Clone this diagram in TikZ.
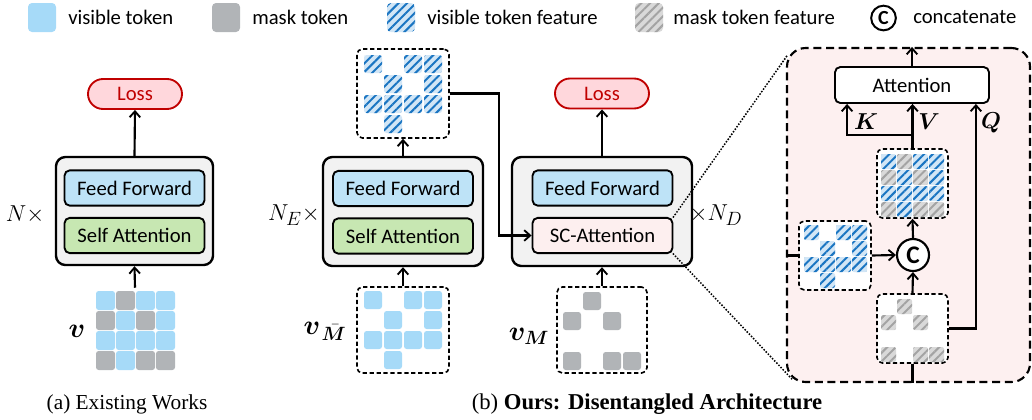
\documentclass[tikz,border=0pt]{standalone}
\usepackage{fontspec}
\setmainfont{Carlito}
\newfontfamily\capfont{Liberation Serif}
\usepackage{bm}
\usetikzlibrary{arrows.meta,patterns.meta,calc,shapes.misc}

\definecolor{vistok}{HTML}{A6DAF8}
\definecolor{msktok}{HTML}{B1B4B7}
\definecolor{featblue}{HTML}{1A75C2}
\definecolor{featlight}{HTML}{D2E6F6}
\definecolor{mskstripe}{HTML}{A3A3A3}
\definecolor{msklight}{HTML}{D9D9D9}
\definecolor{blkgray}{HTML}{F2F2F2}
\definecolor{ffblue}{HTML}{BEE3F7}
\definecolor{sagreen}{HTML}{C7E7B2}
\definecolor{lossred}{HTML}{C00000}
\definecolor{losspink}{HTML}{FFD7DC}
\definecolor{scpink}{HTML}{FDEFEF}
\definecolor{panelpink}{HTML}{FDF0F0}

% token positions (column/row) in the 4x4 grid
\def\vispos{0/0,2/0,3/0,1/1,3/1,0/2,1/2,2/2,3/2,1/3}
\def\mskpos{1/0,0/1,2/1,0/3,2/3,3/3}

\tikzset{
	every node/.style={font=\fontsize{15.5}{18}\selectfont},
	block/.style={draw, line width=1.8pt, rounded corners=7pt, fill=blkgray, inner sep=0pt},
	layer/.style={draw, line width=1.4pt, rounded corners=4pt, minimum width=105pt, minimum height=26.5pt, inner sep=0pt},
	lossbox/.style={draw=lossred, line width=1.4pt, fill=losspink, text=lossred, rounded rectangle, minimum width=70.5pt, minimum height=22.5pt, inner sep=0pt},
	tokbox/.style={draw, line width=1.2pt, dash pattern=on 3.2pt off 2pt, rounded corners=4pt, fill=white, inner sep=0pt},
	arr/.style={line width=1.6pt, -{Straight Barb[length=4.5pt,width=8pt,line width=1.4pt]}},
	link/.style={line width=1.6pt},
	zoomline/.style={line width=1.6pt, dash pattern=on 0pt off 2.3pt, line cap=round},
	vis/.style={fill=vistok, rounded corners=2pt},
	msk/.style={fill=msktok, rounded corners=2pt},
	visfeat/.style={preaction={fill=featlight}, pattern={Lines[angle=45,distance=4.6pt,line width=1.5pt]}, pattern color=featblue, rounded corners=2pt},
	mskfeat/.style={preaction={fill=msklight}, pattern={Lines[angle=45,distance=4.6pt,line width=1.5pt]}, pattern color=mskstripe, rounded corners=2pt},
	mathlbl/.style={font=\fontsize{19}{20}\selectfont},
	veclbl/.style={font=\fontsize{21}{22}\selectfont},
	kvq/.style={font=\fontsize{17}{18}\selectfont},
}

\begin{document}
\begin{tikzpicture}[x=0.75pt,y=-0.75pt]
	\useasboundingbox (0,0) rectangle (1032,419);
	
	%%%%% legend %%%%%
	\path[vis, rounded corners=3pt] (28,3) rectangle (56,32);
	\node[anchor=west, inner sep=0pt] (lg1) at (68,17) {visible token};
	\path[msk, rounded corners=3pt] (212,3) rectangle (240,32);
	\node[anchor=west, inner sep=0pt] (lg2) at (252,17) {mask token};
	\path[visfeat, rounded corners=3pt] (387,3) rectangle (415,32);
	\node[anchor=west, inner sep=0pt] (lg3) at (427,17) {visible token feature};
	\path[mskfeat, rounded corners=3pt] (635,3) rectangle (663,32);
	\node[anchor=west, inner sep=0pt] (lg4) at (673,17) {mask token feature};
	\node[draw, circle, line width=1.5pt, minimum size=18.5pt, inner sep=0pt, font=\bfseries\fontsize{15}{15}\selectfont] (lgc) at (883.5,18) {C};
	\node[anchor=west, inner sep=0pt] (lg5) at (913,17) {concatenate};
	
	%%%%% (a) existing works %%%%%
	\node[block, minimum width=117.75pt, minimum height=81pt] (blk1) at (134.5,211) {};
	\node[layer, fill=ffblue] (ff1) at (134.5,188) {Feed Forward};
	\node[layer, fill=sagreen] (sa1) at (134.5,235.5) {Self Attention};
	\node[lossbox] (loss1) at (135,94) {Loss};
	\node[mathlbl] (n1) at (25,215) {$N\times$};
	
	\node[minimum width=60pt, minimum height=63pt, inner sep=0pt] (gv) at (135,330) {};
	\foreach \c/\r in \vispos
		\path[vis] (96+20*\c,291+20*\r) rectangle ++(19,19);
	\foreach \c/\r in \mskpos
		\path[msk] (96+20*\c,291+20*\r) rectangle ++(19,19);
	\node[veclbl] (v1) at (77,331) {$\bm{v}$};
	
	\draw[arr] (gv.north) -- (blk1.south);
	\draw[arr] (blk1.north) -- (loss1.south);
	
	%%%%% (b) encoder %%%%%
	\node[block, minimum width=120pt, minimum height=81.75pt] (blk2) at (403,211.5) {};
	\node[layer, fill=ffblue] (ff2) at (403,188.5) {Feed Forward};
	\node[layer, fill=sagreen] (sa2) at (403,236) {Self Attention};
	\node[mathlbl] (n2) at (294,215) {$N_E\times$};
	
	\node[tokbox, minimum width=69pt, minimum height=66.75pt] (feat2) at (403,93.5) {};
	\foreach \c/\r in \vispos
		\path[visfeat] (364+20*\c,55+20*\r) rectangle ++(18,18);
	
	\node[tokbox, minimum width=69pt, minimum height=64.5pt] (vis2) at (403,330) {};
	\foreach \c/\r in \vispos
		\path[vis] (364+20*\c,291+20*\r) rectangle ++(18,18);
	\node[veclbl, font=\fontsize{20}{22}\selectfont, inner sep=1pt] (v2) at (325,331) {$\bm{v}_{\mkern2mu\bar{\bm{M}}}$};
	
	\draw[arr] (vis2.north) -- (blk2.south);
	\draw[arr] (blk2.north) -- (feat2.south);
	
	%%%%% (b) decoder %%%%%
	\node[block, minimum width=135pt, minimum height=81.75pt] (blk3) at (602,211.5) {};
	\node[layer, fill=ffblue] (ff3) at (602.5,188) {Feed Forward};
	\node[layer, fill=scpink] (sc) at (602.5,235.5) {SC-Attention};
	\node[lossbox] (loss2) at (602,93.5) {Loss};
	\node[mathlbl] (n3) at (716,215) {$\times N_D$};
	
	\node[tokbox, minimum width=67.5pt, minimum height=64.5pt] (msk3) at (602,330) {};
	\foreach \c/\r in \mskpos
		\path[msk] (563+20*\c,292+20*\r) rectangle ++(18,18);
	\node[veclbl] (v3) at (529,336) {$\bm{v_M}$};
	
	\draw[arr] (msk3.north) -- (blk3.south);
	\draw[arr] (blk3.north) -- (loss2.south);
	\draw[arr] (feat2.east) -- ++(49,0) |- (sc.west);
	
	%%%%% SC-Attention detail %%%%%
	\node[draw, line width=1.6pt, dash pattern=on 6pt off 3.5pt, rounded corners=14pt, fill=panelpink, minimum width=182.25pt, minimum height=250.5pt, inner sep=0pt] (panel) at (908.5,215) {};
	\draw[zoomline] (sc.north east) -- ($(panel.north west)+(1,9)$);
	\draw[zoomline] (sc.south east) -- ($(panel.south west)+(6,-4)$);
	
	\node[draw, line width=1.4pt, rounded corners=4pt, fill=white, minimum width=115.5pt, minimum height=27pt, inner sep=0pt] (att) at (912,85) {Attention};
	
	\node[tokbox, minimum width=53.25pt, minimum height=51.75pt] (cat) at (912.5,183.5) {};
	\foreach \c/\r in \vispos
		\path[visfeat, rounded corners=1.5pt] (881+16*\c,154+16*\r) rectangle ++(15,15);
	\foreach \c/\r in \mskpos
		\path[mskfeat, rounded corners=1.5pt] (881+16*\c,154+16*\r) rectangle ++(15,15);
	
	\node[tokbox, minimum width=54pt, minimum height=51.75pt] (vf) at (835,255.5) {};
	\foreach \c/\r in \vispos
		\path[visfeat, rounded corners=1.5pt] (804+16*\c,225+16*\r) rectangle ++(15,15);
	
	\node[tokbox, minimum width=53.25pt, minimum height=51.75pt] (mf) at (912.5,328.5) {};
	\foreach \c/\r in \mskpos
		\path[mskfeat, rounded corners=1.5pt] (881+16*\c,299+16*\r) rectangle ++(15,15);
	
	\node[draw, circle, line width=1.6pt, fill=white, minimum size=24pt, inner sep=0pt, font=\bfseries\fontsize{19}{19}\selectfont] (cc) at (913,255) {C};
	
	\coordinate (kin) at ($(att.south west)+(13,0)$);
	\coordinate (qin) at ($(att.south east)+(-14,0)$);
	\coordinate (kv) at ($(cat.north)+(0,-13)$);
	
	\draw[link] (vf.west -| panel.west) -- (vf.west);
	\draw[link] (mf.south |- panel.south) -- (mf.south);
	\draw[arr] (vf.east) -- (cc.west);
	\draw[arr] (mf.north) -- (cc.south);
	\draw[arr] (cc.north) -- (cat.south);
	\draw[arr] (cat.north) -- (cat.north |- att.south);
	\draw[arr] (kv) -| (kin);
	\draw[arr] (mf.east) -| (qin);
	\draw[arr] (att.north) -- (att.north |- panel.north);
	
	\node[kvq] (klbl) at (866,122) {$\bm{K}$};
	\node[kvq] (vlbl) at (929,122) {$\bm{V}$};
	\node[kvq] (qlbl) at (991,123) {$\bm{Q}$};
	
	%%%%% captions %%%%%
	\node[font=\capfont\fontsize{16}{18}\selectfont] (capa) at (127,404) {(a) Existing Works};
	\node[font=\capfont\fontsize{17}{18}\selectfont] (capb) at (647,404) {(b) \textbf{Ours: Disentangled Architecture}};
\end{tikzpicture}
\end{document}
